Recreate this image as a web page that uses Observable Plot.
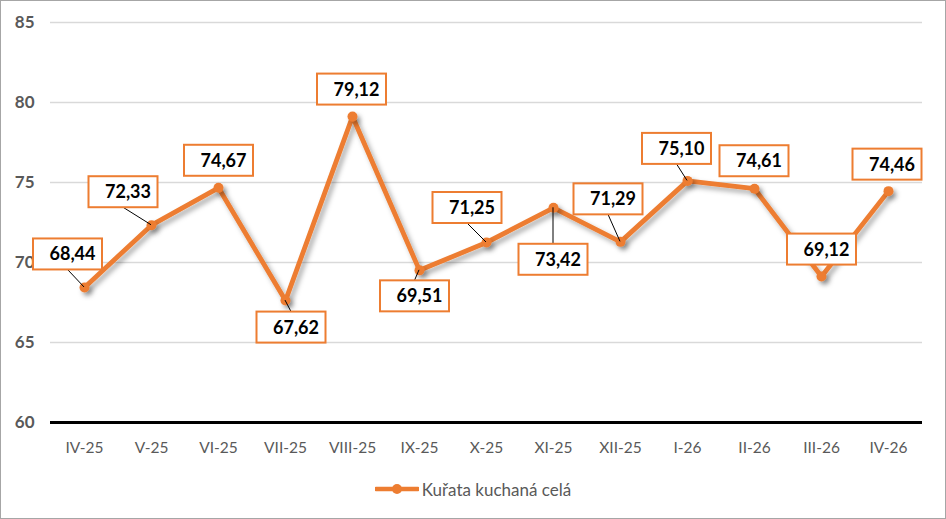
<!DOCTYPE html>
<html>
<head>
<meta charset="utf-8">
<script src="https://cdn.jsdelivr.net/npm/d3@7"></script>
<script src="https://cdn.jsdelivr.net/npm/@observablehq/plot@0.6"></script>
<style>
  body { margin: 0; background: #fff; }
  #chart {
    width: 946px; height: 519px; box-sizing: border-box;
    border: 1px solid #a6a6a6; background: #fff;
    font-family: Lato, "Open Sans", sans-serif;
  }
  #legend {
    height: 46px; display: flex; align-items: center; justify-content: center;
    font-size: 17px; color: #595959;
  }
  #legend svg { margin-right: 3px; }
</style>
</head>
<body>
<div id="chart"></div>
<script>
// Monthly price series
const months = ["IV-25", "V-25", "VI-25", "VII-25", "VIII-25", "IX-25", "X-25",
                "XI-25", "XII-25", "I-26", "II-26", "III-26", "IV-26"];
const prices = [68.44, 72.33, 74.67, 67.62, 79.12, 69.51, 71.25,
                73.42, 71.29, 75.10, 74.61, 69.12, 74.46];
const yTicks = [60, 65, 70, 75, 80, 85];
const seriesName = "Kuřata kuchaná celá";

// Label box placement relative to its point (px) and whether a leader line is drawn
const labelPlacement = [
  [-16.5, -33, true], [-28, -33, true], [0.5, -27, false], [6, 27, true],
  [-0.5, -27, false], [-4.5, 26, true], [-19, -34.5, true], [0, 52, true],
  [-12, -42.5, true], [-10.5, -32, true], [0, -27.5, false], [0.5, -27, false],
  [-1, -26.5, false]
];

const ORANGE = "#ED7D31";
const data = months.map((m, i) => ({month: m, price: prices[i]}));
const fmt = v => v.toFixed(2).replace(".", ",");

// Boxed value labels with optional leader lines, positioned through the plot scales
function valueLabels(index, scales) {
  const g = d3.create("svg:g").attr("aria-label", "value labels");
  const bw = 69, bh = 31;
  data.forEach((d, i) => {
    const px = scales.x(d.month), py = scales.y(d.price);
    const [dx, dy, leader] = labelPlacement[i];
    const cx = px + dx, cy = py + dy;
    if (leader) {
      const ey = dy < 0 ? cy + bh / 2 : cy - bh / 2;
      g.append("line")
        .attr("x1", px).attr("y1", py).attr("x2", cx).attr("y2", ey)
        .attr("stroke", "#000").attr("stroke-width", 1);
    }
    g.append("rect")
      .attr("x", cx - bw / 2).attr("y", cy - bh / 2)
      .attr("width", bw).attr("height", bh)
      .attr("fill", "#fff").attr("stroke", ORANGE).attr("stroke-width", 2);
    g.append("text")
      .attr("x", cx + 5).attr("y", cy).attr("dy", "0.36em")
      .attr("text-anchor", "middle")
      .attr("font-size", 18).attr("font-weight", "bold").attr("fill", "#000")
      .text(fmt(d.price));
  });
  return g.node();
}

const plot = Plot.plot({
  width: 944,
  height: 465,
  marginTop: 21,
  marginBottom: 44,
  marginLeft: 49,
  marginRight: 23,
  style: {fontFamily: "Lato, 'Open Sans', sans-serif", background: "#fff"},
  x: {type: "point", domain: months, padding: 0.5, label: null},
  y: {domain: [60, 85], label: null},
  marks: [
    Plot.ruleY(yTicks.filter(t => t > 60), {stroke: "#d9d9d9", strokeWidth: 1.6}),
    Plot.ruleY([60], {stroke: "#000", strokeWidth: 3}),
    Plot.axisY(yTicks, {tickSize: 0, tickPadding: 16, fontSize: 17, fontWeight: "bold", color: "#595959", label: null}),
    Plot.axisX({tickSize: 0, tickPadding: 19, fontSize: 15.5, color: "#595959", label: null}),
    Plot.line(data, {x: "month", y: "price", stroke: ORANGE, strokeWidth: 4.8, strokeLinejoin: "round"}),
    Plot.dot(data, {x: "month", y: "price", r: 5, fill: ORANGE}),
    valueLabels
  ]
});

// Soft drop shadow under the series
const svg = d3.select(plot);
svg.insert("defs", ":first-child").html(
  '<filter id="shadow" x="-10%" y="-10%" width="120%" height="130%">' +
  '<feDropShadow dx="3" dy="3.5" stdDeviation="2.5" flood-color="#000" flood-opacity="0.33"/></filter>');
svg.selectAll('g[aria-label="line"], g[aria-label="dot"]').attr("filter", "url(#shadow)");

const chart = document.getElementById("chart");
chart.appendChild(plot);

// Legend below the plot
const legend = document.createElement("div");
legend.id = "legend";
const sw = d3.create("svg").attr("width", 44).attr("height", 12);
sw.append("line").attr("x1", 1).attr("x2", 43).attr("y1", 6).attr("y2", 6)
  .attr("stroke", ORANGE).attr("stroke-width", 4.5).attr("stroke-linecap", "round");
sw.append("circle").attr("cx", 22).attr("cy", 6).attr("r", 5).attr("fill", ORANGE);
legend.appendChild(sw.node());
const lt = document.createElement("span");
lt.textContent = seriesName;
legend.appendChild(lt);
chart.appendChild(legend);
</script>
</body>
</html>
